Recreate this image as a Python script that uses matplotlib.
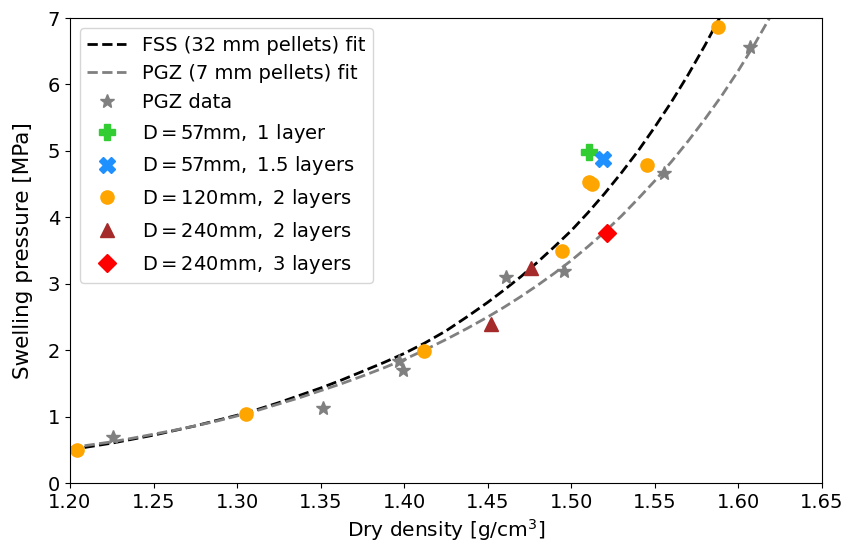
import matplotlib
matplotlib.use("Agg")
import matplotlib.pyplot as plt

# Fitted swelling-pressure curves (dry density -> MPa)
fss_fit_x = [1.2000, 1.2125, 1.2250, 1.2375, 1.2500, 1.2625, 1.2750, 1.2875,
             1.3000, 1.3125, 1.3250, 1.3375, 1.3500, 1.3625, 1.3750, 1.3875,
             1.4000, 1.4125, 1.4250, 1.4375, 1.4500, 1.46, 1.47, 1.48, 1.49,
             1.50, 1.51, 1.52, 1.53, 1.54, 1.55, 1.56, 1.57, 1.58, 1.59]
fss_fit_y = [0.50, 0.55, 0.60, 0.66, 0.72, 0.79, 0.86, 0.94,
             1.02, 1.11, 1.21, 1.32, 1.43, 1.55, 1.68, 1.81,
             1.95, 2.11, 2.29, 2.50, 2.72, 2.91, 3.11, 3.33, 3.56,
             3.80, 4.07, 4.36, 4.67, 5.00, 5.36, 5.74, 6.15, 6.59, 7.06]
pgz_fit_x = [1.2000, 1.2125, 1.2250, 1.2375, 1.2500, 1.2625, 1.2750, 1.2875,
             1.3000, 1.3125, 1.3250, 1.3375, 1.3500, 1.3625, 1.3750, 1.3875,
             1.4000, 1.4125, 1.4250, 1.4375, 1.4500, 1.46, 1.47, 1.48, 1.49,
             1.50, 1.51, 1.52, 1.53, 1.54, 1.55, 1.56, 1.57, 1.58, 1.59,
             1.60, 1.61, 1.62]
pgz_fit_y = [0.53, 0.575, 0.62, 0.675, 0.735, 0.795, 0.86, 0.93,
             1.01, 1.095, 1.19, 1.285, 1.39, 1.495, 1.61, 1.73,
             1.86, 2.005, 2.16, 2.325, 2.50, 2.65, 2.81, 2.98, 3.16,
             3.35, 3.56, 3.78, 4.02, 4.28, 4.55, 4.84, 5.15, 5.48, 5.83,
             6.21, 6.62, 7.06]

# PGZ measurements
pgz_x = [1.226, 1.3516, 1.397, 1.399, 1.461, 1.4956, 1.5555, 1.6068]
pgz_y = [0.70, 1.135, 1.83, 1.70, 3.10, 3.19, 4.66, 6.57]

# Large-scale tests
d57_1_x = [1.5103]
d57_1_y = [4.99]
d57_15_x = [1.519]
d57_15_y = [4.88]
d120_2_x = [1.204, 1.3056, 1.412, 1.4944, 1.5105, 1.5125, 1.5453, 1.588]
d120_2_y = [0.49, 1.04, 1.99, 3.50, 4.53, 4.50, 4.79, 6.87]
d240_2_x = [1.452, 1.476]
d240_2_y = [2.39, 3.23]
d240_3_x = [1.5216]
d240_3_y = [3.76]

x_ticks = [1.20, 1.25, 1.30, 1.35, 1.40, 1.45, 1.50, 1.55, 1.60, 1.65]
y_ticks = [0, 1, 2, 3, 4, 5, 6, 7]

plt.rcParams["font.size"] = 14
plt.rcParams["mathtext.default"] = "regular"

fig = plt.figure(figsize=(8.46, 5.49), dpi=100)
ax = fig.add_axes([0.0827, 0.1202, 0.8889, 0.8470])

ax.plot(fss_fit_x, fss_fit_y, "--", color="black", lw=2, label="FSS (32 mm pellets) fit")
ax.plot(pgz_fit_x, pgz_fit_y, "--", color="gray", lw=2, label="PGZ (7 mm pellets) fit")
ax.plot(pgz_x, pgz_y, "*", color="gray", ms=10, ls="none", label="PGZ data")
ax.plot(d57_1_x, d57_1_y, "P", color="limegreen", ms=11, ls="none",
        label=r"$\mathrm{D=57mm,\ 1\ layer}$")
ax.plot(d57_15_x, d57_15_y, "X", color="dodgerblue", ms=11, ls="none",
        label=r"$\mathrm{D=57mm,\ 1.5\ layers}$")
ax.plot(d120_2_x, d120_2_y, "o", color="orange", ms=9.5, ls="none",
        label=r"$\mathrm{D=120mm,\ 2\ layers}$")
ax.plot(d240_2_x, d240_2_y, "^", color="brown", ms=9.5, ls="none",
        label=r"$\mathrm{D=240mm,\ 2\ layers}$")
ax.plot(d240_3_x, d240_3_y, "D", color="red", ms=9, ls="none",
        label=r"$\mathrm{D=240mm,\ 3\ layers}$")

ax.set_xlim(1.20, 1.65)
ax.set_ylim(0, 7)
ax.set_xticks(x_ticks)
ax.set_xticklabels([f"{v:.2f}" for v in x_ticks])
ax.set_yticks(y_ticks)
ax.set_xlabel(r"Dry density [g/cm$^3$]", fontsize=14.5)
ax.set_ylabel("Swelling pressure [MPa]", fontsize=15.5)
ax.yaxis.set_label_coords(-0.049, 0.5)
ax.legend(loc="upper left", fontsize=14)

fig.savefig("out.png", dpi=100)
